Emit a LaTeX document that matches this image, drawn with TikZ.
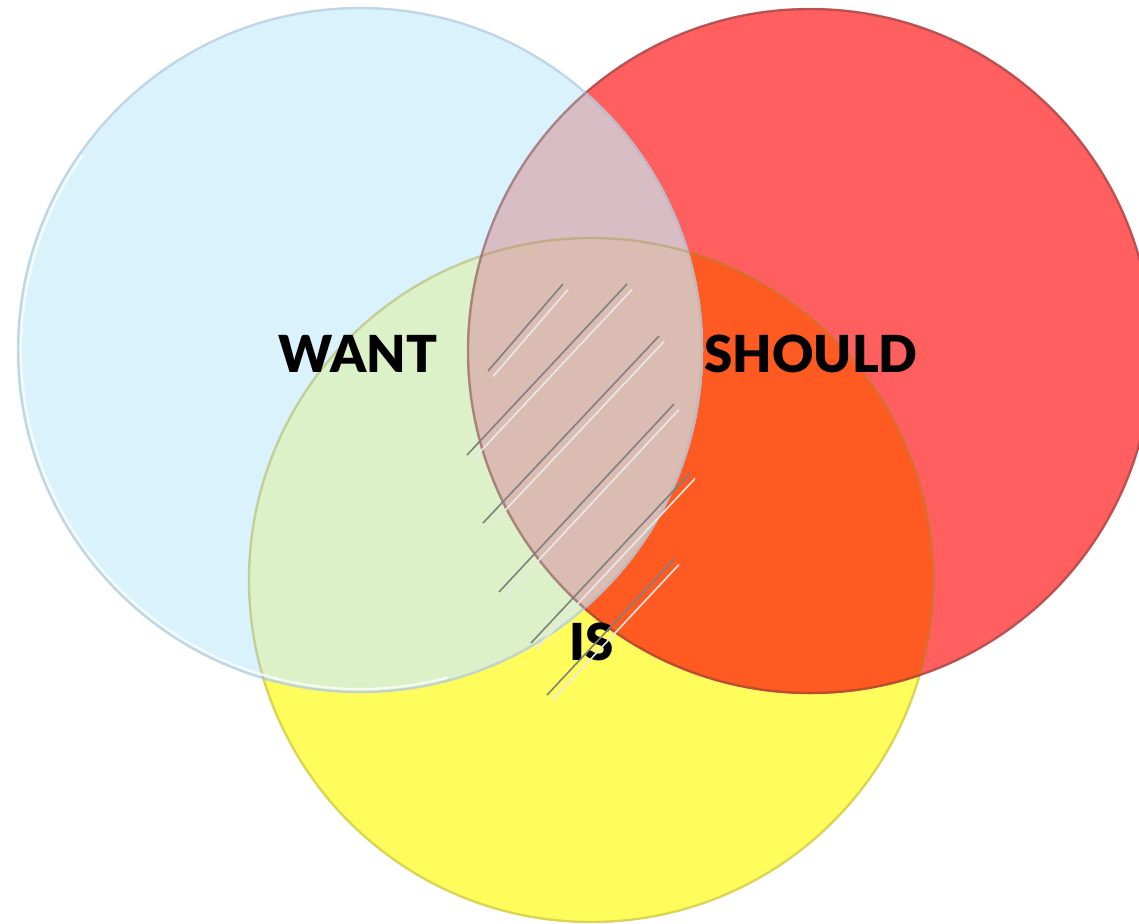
\documentclass[tikz,border=0pt]{standalone}
\usepackage{fontspec}
\setmainfont{Lato}[BoldFont={Lato Black}]

\definecolor{wantblue}{HTML}{DAF2FC}
\definecolor{shouldred}{HTML}{FF5F5F}
\definecolor{isyellow}{HTML}{FFFC5C}
\definecolor{wantis}{HTML}{DCF1C8}
\definecolor{wantshould}{HTML}{D9BDC5}
\definecolor{shouldis}{HTML}{FF5A22}
\definecolor{allthree}{HTML}{DBBCB2}

\begin{document}
\begin{tikzpicture}[
  x=0.5pt, y=-0.5pt,
  setlabel/.style={font=\fontsize{25.5}{28}\selectfont\bfseries, text=black, inner sep=0pt},
  rimdark/.style={line width=1.2pt, draw opacity=0.45},
  rimlight/.style={line width=1.2pt, draw=white, draw opacity=0.7},
  hatchdark/.style={draw={rgb,255:red,128;green,128;blue,128}, line width=0.8pt},
  hatchlight/.style={draw={rgb,255:red,232;green,232;blue,232}, line width=0.8pt}
]
  \useasboundingbox (0,0) rectangle (1139,923);
  \def\rad{343}
  \coordinate (cwant) at (360,350);
  \coordinate (cshould) at (810,351);
  \coordinate (cis) at (591,580);

  % the three discs, yellow at the back and blue in front
  \fill[isyellow] (cis) circle (\rad);
  \fill[shouldred] (cshould) circle (\rad);
  \fill[wantblue] (cwant) circle (\rad);

  % overlaps
  \begin{scope}
    \clip (cis) circle (\rad);
    \fill[shouldis] (cshould) circle (\rad);
    \fill[wantis] (cwant) circle (\rad);
  \end{scope}
  \begin{scope}
    \clip (cshould) circle (\rad);
    \fill[wantshould] (cwant) circle (\rad);
    \clip (cis) circle (\rad);
    \fill[allthree] (cwant) circle (\rad);
  \end{scope}

  % rims
  \draw[rimdark, draw={rgb,255:red,150;green,145;blue,60}, draw opacity=0.35] (cis) circle (\rad-1);
  \draw[rimdark, draw={rgb,255:red,110;green,60;blue,60}] (cshould) circle (\rad-1);
  \draw[rimdark, draw={rgb,255:red,160;green,180;blue,200}, draw opacity=0.45] (cwant) circle (\rad-1);
  \draw[rimlight] (cwant) ++(75:\rad-4) arc (75:215:\rad-4);

  \node[setlabel] (want) at (358,354) {WANT};
  \node[setlabel] (should) at (811,354) {SHOULD};
  \node[setlabel] (is) at (592,642) {IS};

  % hatching over the middle
  \foreach \xa/\ya/\xb/\yb in {488/371/563/284, 467/455/627/284, 483/523/659/336,
                               499/592/674/404, 531/643/690/473, 547/695/674/559} {
    \draw[hatchdark] (\xa,\ya) -- (\xb,\yb);
    \draw[hatchlight] ([shift={(5,5.5)}]\xa,\ya) -- ([shift={(5,5.5)}]\xb,\yb);
  }
\end{tikzpicture}
\end{document}
